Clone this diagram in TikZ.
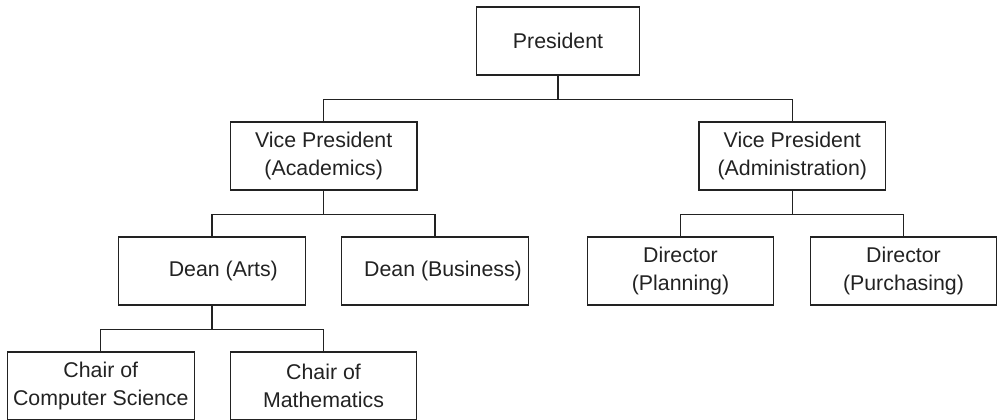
\documentclass[tikz,border=0pt]{standalone}
\usepackage{fontspec}
\setmainfont{Liberation Sans}
\usetikzlibrary{positioning}

\definecolor{inkgray}{HTML}{222222}

\begin{document}
\begin{tikzpicture}[
      x=0.75pt, y=-0.75pt,
      font=\fontsize{16pt}{21pt}\selectfont,
      box/.style={rectangle, draw=inkgray, line width=0.9pt, text=inkgray,
                  minimum width=140pt, minimum height=51pt, align=center,
                  inner sep=0pt},
      top/.style={box, minimum width=122pt},
      link/.style={draw=inkgray, line width=0.9pt}
    ]
    \useasboundingbox (0,0) rectangle (998,419);

    % Level 0
    \node[top] (pres) at (558,41) {President};

    % Level 1: vice presidents
    \node[box] (vpacad) at (323.7,156) {Vice President\\(Academics)};
    \node[box] (vpadm) at (792.3,156) {Vice President\\(Administration)};

    % Level 2: deans and directors
    \node[box] (arts) at (212,271) {\hspace*{17pt}Dean (Arts)};
    \node[box] (bus) at (435,271) {\hspace*{12pt}Dean (Business)};
    \node[box] (plan) at (680.5,271) {Director\\(Planning)};
    \node[box] (purch) at (903.5,271) {Director\\(Purchasing)};

    % Level 3: chairs
    \node[box] (cs) at (100.8,386) {Chair of\\Computer Science};
    \node[box] (math) at (323.5,386) {Chair of\\Mathematics};

    % Connectors
    \draw[link] (pres.south) -- ++(0,24) coordinate (pj) -| (vpacad.north);
    \draw[link] (pj) -| (vpadm.north);
    \draw[link] (vpacad.south) -- ++(0,24) coordinate (aj) -| (arts.north);
    \draw[link] (aj) -| (bus.north);
    \draw[link] (vpadm.south) -- ++(0,24) coordinate (dj) -| (plan.north);
    \draw[link] (dj) -| (purch.north);
    \draw[link] (arts.south) -- ++(0,24) coordinate (cj) -| (cs.north);
    \draw[link] (cj) -| (math.north);
  \end{tikzpicture}
\end{document}
